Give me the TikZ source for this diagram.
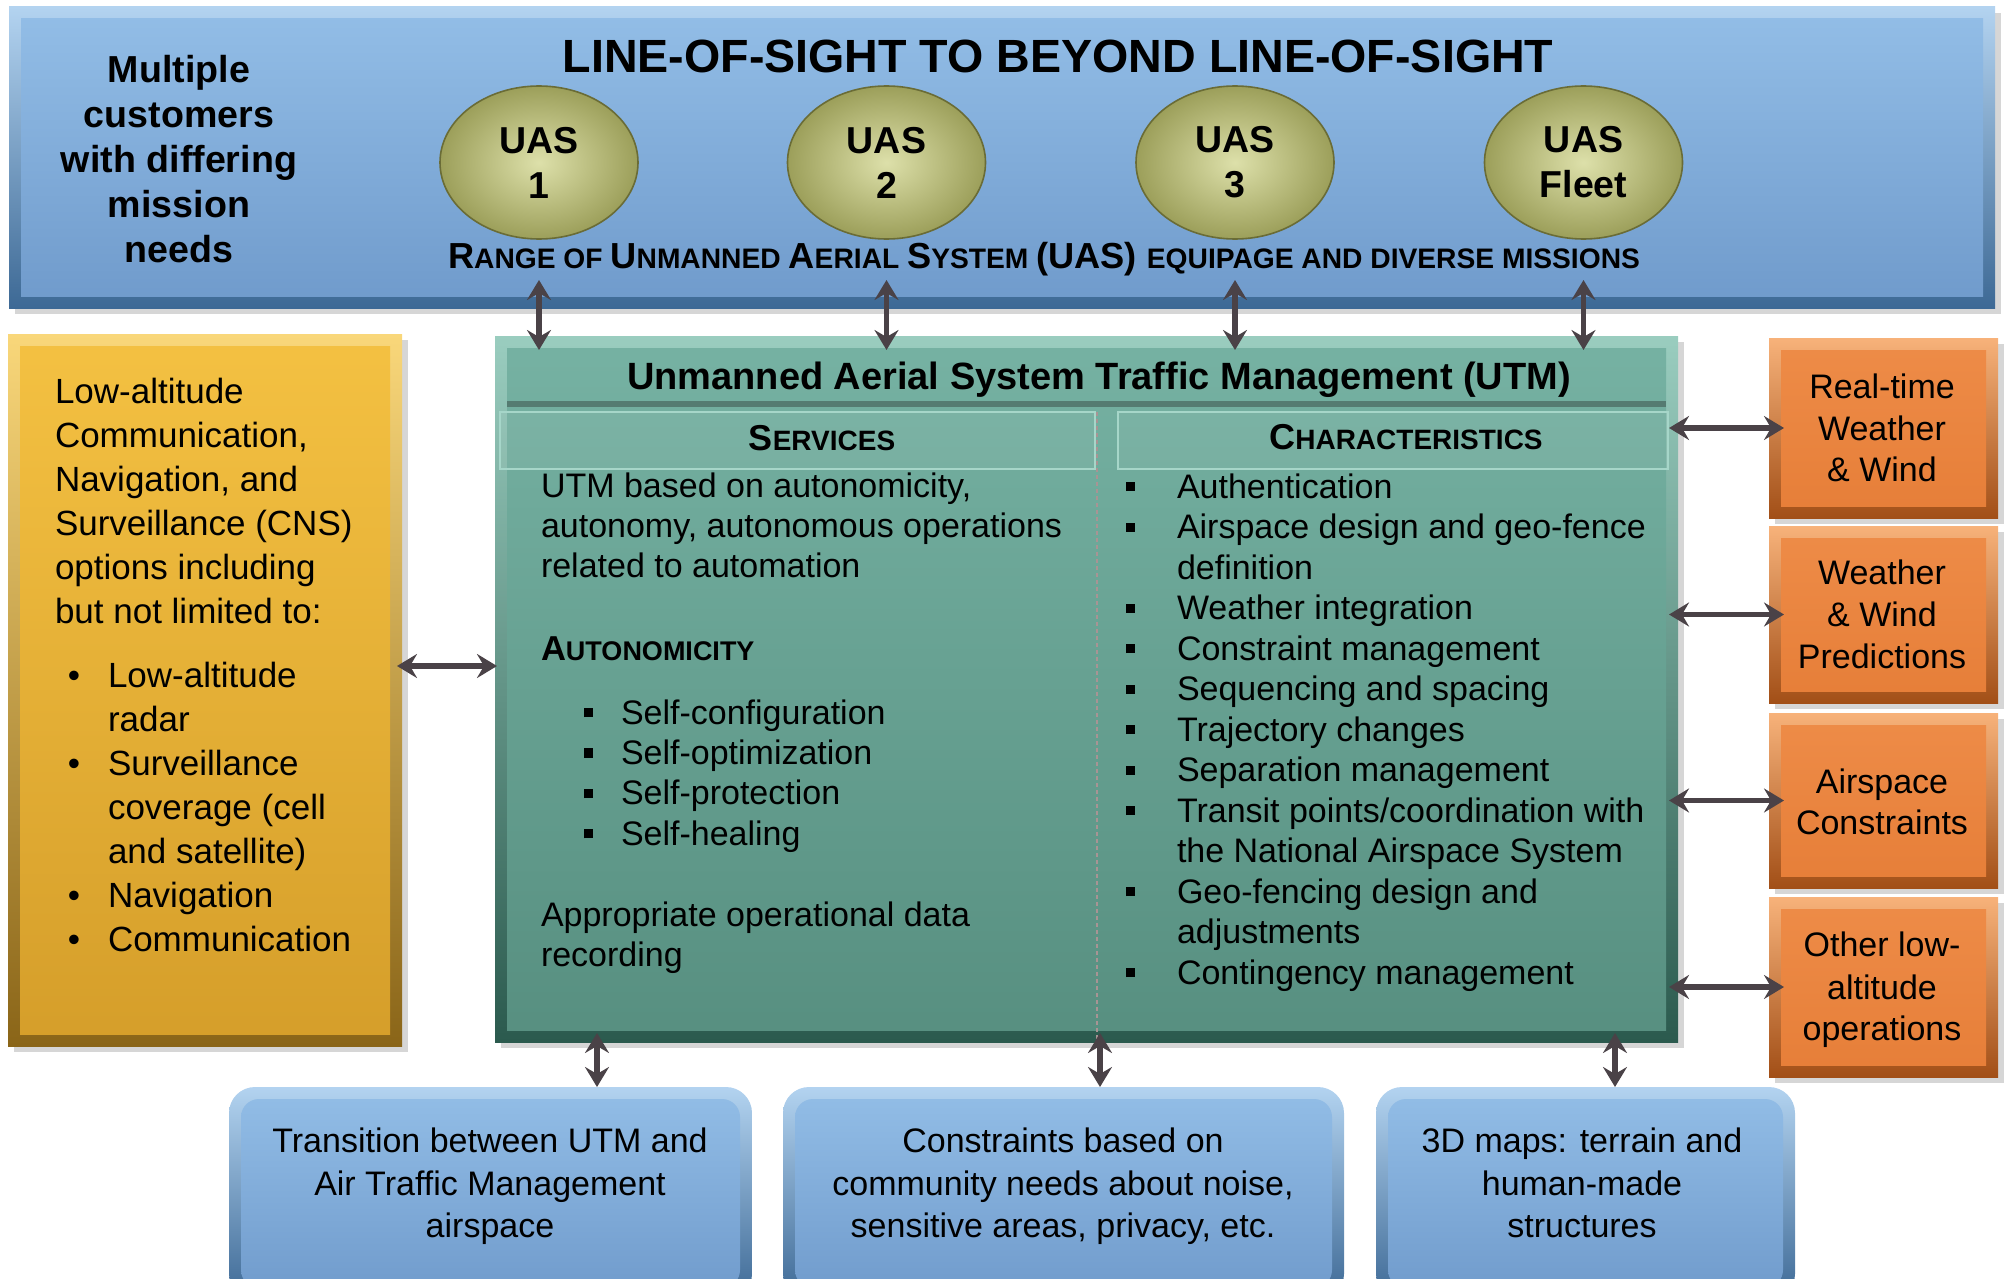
\documentclass[tikz,border=0pt]{standalone}
\usepackage{fontspec}
\setmainfont{Liberation Sans}
\usetikzlibrary{arrows.meta,shapes.geometric,fit}
\definecolor{bnA}{HTML}{B3D3F0}\definecolor{bnB}{HTML}{3D6995}
\definecolor{bnC}{HTML}{93BEE7}\definecolor{bnD}{HTML}{6F9ACB}
\definecolor{yeA}{HTML}{F9D77A}\definecolor{yeB}{HTML}{8A6518}
\definecolor{yeC}{HTML}{F4C142}\definecolor{yeD}{HTML}{D59E2A}
\definecolor{teA}{HTML}{9ACDBF}\definecolor{teB}{HTML}{2B5A4E}
\definecolor{teC}{HTML}{76B2A3}\definecolor{teD}{HTML}{578F80}
\definecolor{orA}{HTML}{F7B27A}\definecolor{orB}{HTML}{A24F17}
\definecolor{orC}{HTML}{EE8C48}\definecolor{orD}{HTML}{E67E38}
\definecolor{olA}{HTML}{DDE0AA}\definecolor{olB}{HTML}{9C9F5A}\definecolor{olE}{HTML}{6A6C36}
\definecolor{arrc}{HTML}{4A4247}
\definecolor{divc}{HTML}{A89494}
\definecolor{subc}{HTML}{A6D6C9}
\newcommand\fsc[4]{{\fontsize{#1}{#1}\selectfont #3}{\fontsize{#2}{#2}\selectfont #4}}
\newcommand\sqb{\rule[3.4pt]{4.6pt}{4.6pt}}
\begin{document}
\begin{tikzpicture}[x=0.5pt,y=-0.5pt,
  every node/.style={inner sep=0pt,outer sep=0pt},
  bevel/.style n args={5}{top color=#1,bottom color=#2,
    path picture={\shade[top color=#3,bottom color=#4,rounded corners=#5]
      ([shift={(12,12)}]path picture bounding box.north west) rectangle
      ([shift={(-12,-12)}]path picture bounding box.south east);}},
  shadowbox/.style={fill=black,opacity=0.16},
  uas/.style={ellipse,minimum width=99pt,minimum height=76.5pt,inner color=olA,outer color=olB,
    draw=olE,line width=0.8pt,align=center,font=\bfseries\fontsize{18.75}{22.5}\selectfont},
  lt/.style={font=\fontsize{17.5}{21}\selectfont,anchor=base west},
  bt/.style={font=\fontsize{17}{20}\selectfont,anchor=base west},
  ct/.style={font=\fontsize{17}{20}\selectfont,anchor=base},
  dbl/.style={draw=arrc,line width=2.6pt,
    {Stealth[length=10pt,width=12pt,inset=3.5pt]}-{Stealth[length=10pt,width=12pt,inset=3.5pt]}}
]
\clip (0,0) rectangle (2004,1279);
% ---------- shadows
\fill[shadowbox] (15,13) rectangle (2001,314);
\fill[shadowbox] (14,340) rectangle (408,1052);
\fill[shadowbox] (501,342) rectangle (1684,1048);
\foreach \a/\b in {338/518,526/703,713/888,897/1077}
  \fill[shadowbox] (1775,\a+6) rectangle (2004,\b+6);
% ---------- boxes
\node[bevel={bnA}{bnB}{bnC}{bnD}{0pt},fit={(9,7) (1995,308)}] (banner) {};
\node[bevel={yeA}{yeB}{yeC}{yeD}{0pt},fit={(8,334) (402,1046)}] (cns) {};
\node[bevel={teA}{teB}{teC}{teD}{0pt},fit={(495,336) (1678,1042)}] (utm) {};
\node[bevel={orA}{orB}{orC}{orD}{0pt},fit={(1769,338) (1998,518)}] (or1) {};
\node[bevel={orA}{orB}{orC}{orD}{0pt},fit={(1769,526) (1998,703)}] (or2) {};
\node[bevel={orA}{orB}{orC}{orD}{0pt},fit={(1769,713) (1998,888)}] (or3) {};
\node[bevel={orA}{orB}{orC}{orD}{0pt},fit={(1769,897) (1998,1077)}] (or4) {};
\node[rounded corners=13pt,bevel={bnA}{bnB}{bnC}{bnD}{9pt},fit={(229,1087) (752,1300)}] (bx1) {};
\node[rounded corners=13pt,bevel={bnA}{bnB}{bnC}{bnD}{9pt},fit={(783,1087) (1344,1300)}] (bx2) {};
\node[rounded corners=13pt,bevel={bnA}{bnB}{bnC}{bnD}{9pt},fit={(1376,1087) (1795,1300)}] (bx3) {};
% ---------- teal box inner structure
\draw[teB!80,line width=3pt] (507,404) -- (1666,404);
\draw[subc,line width=0.8pt,fill=white,fill opacity=0.06] (500,412) rectangle (1095,469);
\draw[subc,line width=0.8pt,fill=white,fill opacity=0.06] (1118,412) rectangle (1668,469);
\draw[divc,line width=1.4pt,dash pattern=on 2pt off 1.5pt] (1097,412) -- (1097,1040);
% ---------- banner content
\node[font=\bfseries\fontsize{23.3}{28}\selectfont,anchor=base] (title) at (1058,73) {LINE-OF-SIGHT TO BEYOND LINE-OF-SIGHT};
\foreach \t [count=\i from 0] in {Multiple,customers,with differing,mission,needs}
  \node[font=\bfseries\fontsize{18.8}{22}\selectfont,anchor=base] (mc\i) at (179,83+45*\i) {\t};
\node[uas] (uas1) at (539,162.5) {UAS\\1};
\node[uas] (uas2) at (886.5,162.5) {UAS\\2};
\node[uas] (uas3) at (1235,162.5) {UAS\\3};
\node[uas] (uas4) at (1583.5,162.5) {UAS\\Fleet};
\node[font=\bfseries,anchor=base] (range) at (1044,268)
  {\fsc{18.1}{14.1}{R}{ANGE OF }\fsc{18.1}{14.1}{U}{NMANNED }\fsc{18.1}{14.1}{A}{ERIAL }\fsc{18.1}{14.1}{S}{YSTEM }\fsc{18.1}{14.1}{(UAS) }{EQUIPAGE AND DIVERSE MISSIONS}};
% ---------- CNS box text
\foreach \t [count=\i from 0] in {Low-altitude,{Communication,},{Navigation, and},Surveillance (CNS),options including,but not limited to:}
  \node[lt] (cn\i) at (55,403+44*\i) {\t};
\foreach \i in {0,2,5,6}
  \node[lt] (cb\i) at (68,687+44*\i) {•};
\foreach \t [count=\i from 0] in {Low-altitude,radar,Surveillance,{coverage (cell},{and satellite)},Navigation,Communication}
  \node[lt] (cl\i) at (108,687+44*\i) {\t};
% ---------- UTM box text
\node[font=\bfseries\fontsize{19}{22}\selectfont,anchor=base] (utmtitle) at (1099,389) {Unmanned Aerial System Traffic Management (UTM)};
\node[font=\bfseries,anchor=base] (svh) at (822,450) {\fsc{18}{14}{S}{ERVICES}};
\node[font=\bfseries,anchor=base] (chh) at (1406,449) {\fsc{18}{14}{C}{HARACTERISTICS}};
\foreach \t [count=\i from 0] in {{UTM based on autonomicity,},{autonomy, autonomous operations},related to automation}
  \node[bt] (sv\i) at (541,497+40*\i) {\t};
\node[font=\bfseries,anchor=base west] (auto) at (541,660) {\fsc{17.3}{13.5}{A}{UTONOMICITY}};
\foreach \t [count=\i from 0] in {Self-configuration,Self-optimization,Self-protection,Self-healing}
  {\node[bt] (sq\i) at (584,724+40.4*\i) {\sqb};
   \node[bt] (sa\i) at (621,724+40.4*\i) {\t};}
\node[bt] (ap1) at (541,926) {Appropriate operational data};
\node[bt] (ap2) at (541,966) {recording};
\foreach \t [count=\i from 0] in {Authentication,Airspace design and geo-fence,definition,Weather integration,Constraint management,Sequencing and spacing,Trajectory changes,Separation management,Transit points/coordination with,the National Airspace System,Geo-fencing design and,adjustments,Contingency management}
  \node[bt] (ch\i) at (1177,498+40.5*\i) {\t};
\foreach \i in {0,1,3,4,5,6,7,8,10,12}
  \node[bt] (chb\i) at (1126,498+40.5*\i) {\sqb};
% ---------- orange box text
\foreach \t/\y [count=\i] in {Real-time/398,Weather/440,{\& Wind}/481,Weather/584,{\& Wind}/626,Predictions/668,Airspace/793,Constraints/834,Other low-/956,altitude/999,operations/1040}
  \node[ct] (ot\i) at (1882,\y) {\t};
% ---------- bottom box text
\foreach \t/\y [count=\i] in {Transition between UTM and/1152,Air Traffic Management/1195,airspace/1237}
  \node[ct] (b1t\i) at (490,\y) {\t};
\foreach \t/\y [count=\i] in {Constraints based on/1152,{community needs about noise,}/1195,{sensitive areas, privacy, etc.}/1237}
  \node[ct] (b2t\i) at (1063,\y) {\t};
\foreach \t/\y [count=\i] in {3D maps: terrain and/1152,human-made/1195,structures/1237}
  \node[ct] (b3t\i) at (1582,\y) {\t};
% ---------- connectors
\foreach \u in {uas1,uas2,uas3,uas4}
  \draw[dbl] ([yshift=14pt]\u |- banner.south) -- ([yshift=-7pt]\u |- utm.north);
\coordinate (lr) at (0,666);
\draw[dbl] ([xshift=-2.5pt]cns.east |- lr) -- ([xshift=1pt]utm.west |- lr);
\foreach \o in {or1,or2,or3,or4}
  \draw[dbl] ([xshift=-4.5pt]utm.east |- \o.center) -- ([xshift=7.5pt]\o.west);
\coordinate (ba1) at (597,0);
\coordinate (ba2) at (1100,0);
\coordinate (ba3) at (1615,0);
\draw[dbl] ([yshift=4.5pt]ba1 |- utm.south) -- (ba1 |- bx1.north);
\draw[dbl] ([yshift=4.5pt]ba2 |- utm.south) -- (ba2 |- bx2.north);
\draw[dbl] ([yshift=4.5pt]ba3 |- utm.south) -- (ba3 |- bx3.north);
\end{tikzpicture}
\end{document}
